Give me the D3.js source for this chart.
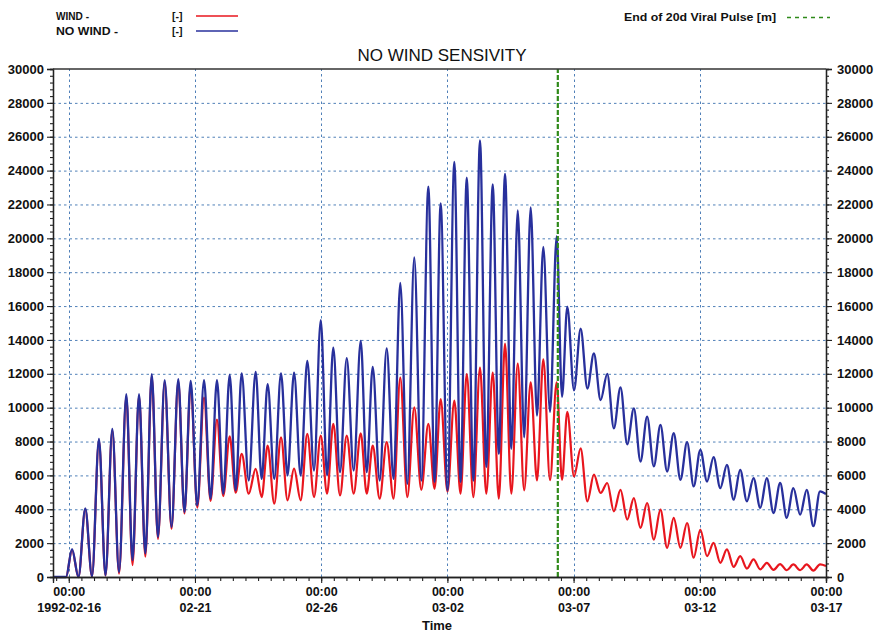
<!DOCTYPE html>
<html>
<head>
<meta charset="utf-8">
<script src="https://cdn.jsdelivr.net/npm/d3@7"></script>
<style>
  body { margin: 0; background: #fff; }
  text { font-family: "Liberation Sans", Arial, sans-serif; fill: #111; }
</style>
</head>
<body>
<svg id="chart" width="874" height="633"></svg>
<script>
// Simulation window: the viral pulse starts at the beginning of the run
const pulseStart = new Date(1992, 1, 15, 9, 0);
const pulseDays = 20;
const runEnd = new Date(1992, 2, 17, 0, 0);

// Tidal extremes, hours after pulse start (shared by both runs)
const hoursFromStart = [
  0, 12.4, 18.1, 24.2, 30.7, 37.1, 43.7, 49.9, 56.4, 62.8,
  69.7, 75.6, 81.8, 87.8, 93.9, 99.8, 106.2, 112.7, 119.1, 125.0,
  130.9, 137.2, 143.6, 149.8, 155.9, 161.9, 168.0, 173.7, 179.4, 186.1,
  192.7, 198.4, 204.1, 210.4, 216.8, 223.0, 229.2, 235.5, 241.8, 248.2,
  254.6, 260.6, 266.5, 272.9, 279.3, 285.9, 292.6, 298.3, 304.0, 310.6,
  317.3, 323.8, 330.2, 336.9, 343.5, 350.2, 356.9, 362.8, 368.6, 375.1,
  381.6, 387.5, 393.4, 399.7, 406.0, 412.0, 418.1, 423.9, 429.8, 435.8,
  441.9, 448.0, 454.2, 460.2, 466.2, 472.6, 478.9, 484.0, 489.0, 495.4,
  501.7, 508.1, 514.3, 520.7, 527.0, 533.3, 539.6, 546.0, 552.3, 558.6,
  564.9, 571.3, 577.6, 583.9, 590.2, 596.6, 602.9, 609.2, 615.5, 621.9,
  628.1, 634.5, 640.8, 647.2, 653.4, 659.8, 666.1, 672.5, 678.7, 685.1,
  691.4, 697.7, 704.0, 710.4, 716.7, 723.0, 729.3, 735.0
];

// WIND run [-]
const windValues = [
  0, 0, 1600, 0, 4000, 30, 8050, 80, 8650, 200,
  10650, 700, 10700, 1200, 11850, 2250, 11500, 2850, 11550, 3750,
  11300, 4100, 10600, 4500, 9300, 4780, 8300, 4980, 7270, 4920,
  6390, 4720, 7760, 4330, 8250, 4530, 6400, 4530, 8450, 4720,
  8350, 4920, 9040, 4820, 8350, 4920, 8490, 4920, 7760, 4630,
  7960, 4630, 11780, 4720, 10020, 5150, 9040, 5210, 10500, 5050,
  10410, 4920, 11980, 4720, 12370, 4920, 12070, 4630, 13780, 4920,
  12600, 5120, 11490, 5700, 12850, 5720, 11500, 5740, 9760, 5940,
  7600, 4470, 6040, 4960, 5550, 3880, 5150, 3390, 4660, 2900,
  4370, 2210, 3980, 1720, 3490, 1720, 3190, 1140, 2800, 1230,
  2020, 840, 1630, 600, 1230, 500, 1040, 450, 840, 420,
  760, 400, 740, 400, 740, 380, 740, 650
];

// NO WIND run [-]
const noWindValues = [
  0, 0, 1650, 0, 4050, 50, 8150, 100, 8740, 300,
  10800, 1000, 10800, 1390, 11980, 2370, 11620, 2960, 11680, 3840,
  11580, 4230, 11620, 4630, 11620, 4920, 11940, 5120, 12020, 5700,
  12110, 5800, 11390, 5800, 12020, 6000, 12070, 6000, 12760, 6290,
  15170, 6000, 13540, 6190, 12920, 6290, 13940, 6190, 12410, 5700,
  13500, 5800, 17370, 5500, 18870, 5700, 23050, 5610, 22070, 5120,
  24520, 5610, 23580, 5700, 25790, 6490, 23190, 7270, 23800, 7570,
  21650, 8250, 21820, 9530, 19500, 9760, 20110, 10640, 15970, 11030,
  14660, 11130, 13200, 10450, 12000, 8780, 11200, 7840, 9960, 6820,
  9470, 6530, 8980, 6230, 8490, 5740, 7960, 5350, 7510, 5640,
  7080, 5250, 6620, 4570, 6330, 4470, 5840, 4080, 5840, 3780,
  5550, 3490, 5250, 3680, 5150, 3000, 5060, 4900
];

const yTickValues = [0, 2000, 4000, 6000, 8000, 10000, 12000, 14000, 16000,
  18000, 20000, 22000, 24000, 26000, 28000, 30000];
const xTickDays = ["1992-02-16", "1992-02-21", "1992-02-26", "1992-03-02",
  "1992-03-07", "1992-03-12", "1992-03-17"];

const seriesColors = { wind: "#e8161e", noWind: "#28309c", pulse: "#2f8a1a" };

const svg = d3.select("#chart");
const margin = { left: 53, right: 48, top: 69, bottom: 56 };
const W = 874, H = 633;

const x = d3.scaleTime()
  .domain([pulseStart, runEnd])
  .range([margin.left, W - margin.right]);
const y = d3.scaleLinear()
  .domain([0, 30000])
  .range([H - margin.bottom, margin.top]);

const parseDay = d3.timeParse("%Y-%m-%d");
const xTicks = xTickDays.map(parseDay);
const hour = 3600 * 1000;
const toDate = h => new Date(pulseStart.getTime() + h * hour);

// Grid
const grid = svg.append("g")
  .attr("stroke", "#5080b8")
  .attr("stroke-width", 1)
  .attr("stroke-dasharray", "2.5,3");
grid.selectAll("line.h")
  .data(yTickValues.filter(v => v > 0 && v < 30000))
  .join("line")
  .attr("x1", x.range()[0]).attr("x2", x.range()[1])
  .attr("y1", d => y(d) + 0.5).attr("y2", d => y(d) + 0.5);
grid.selectAll("line.v")
  .data(xTicks.slice(0, -1))
  .join("line")
  .attr("x1", d => Math.round(x(d)) + 0.5).attr("x2", d => Math.round(x(d)) + 0.5)
  .attr("y1", y.range()[0]).attr("y2", y.range()[1]);

// Series
const line = (vals) => d3.line()
  .x((d, i) => x(toDate(hoursFromStart[i])))
  .y(d => y(d))
  .curve(d3.curveMonotoneX)(vals);

svg.append("path")
  .attr("d", line(windValues))
  .attr("fill", "none")
  .attr("stroke", seriesColors.wind)
  .attr("stroke-width", 2.2)
  .attr("stroke-linejoin", "round");

svg.append("path")
  .attr("d", line(noWindValues))
  .attr("fill", "none")
  .attr("stroke", seriesColors.noWind)
  .attr("stroke-width", 2.3)
  .attr("stroke-linejoin", "round");

// End of the viral pulse
const pulseEnd = d3.timeDay.offset(pulseStart, pulseDays);
svg.append("line")
  .attr("x1", x(pulseEnd)).attr("x2", x(pulseEnd))
  .attr("y1", y(0)).attr("y2", y(30000))
  .attr("stroke", seriesColors.pulse)
  .attr("stroke-width", 2.2)
  .attr("stroke-dasharray", "5,2");

// Axes
const fmtNum = d3.format("d");
const minorY = d3.range(0, 30001, 400);

function styleAxis(g) {
  g.select(".domain").attr("stroke", "#222").attr("stroke-width", 1.3);
  g.selectAll(".tick line").attr("stroke", "#222").attr("stroke-width", 1.1);
  g.selectAll("text")
    .attr("font-family", "'Liberation Sans', Arial, sans-serif")
    .attr("fill", "#111");
}

// left
svg.append("g")
  .attr("transform", `translate(${margin.left},0)`)
  .call(d3.axisLeft(y).tickValues(minorY).tickSize(3).tickFormat(""))
  .call(styleAxis);
svg.append("g")
  .attr("transform", `translate(${margin.left},0)`)
  .call(d3.axisLeft(y).tickValues(yTickValues).tickSize(6).tickPadding(3).tickFormat(fmtNum))
  .call(styleAxis)
  .selectAll("text").attr("font-size", 13).attr("font-weight", "bold");

// right
svg.append("g")
  .attr("transform", `translate(${W - margin.right},0)`)
  .call(d3.axisRight(y).tickValues(minorY).tickSize(3).tickFormat(""))
  .call(styleAxis);
svg.append("g")
  .attr("transform", `translate(${W - margin.right},0)`)
  .call(d3.axisRight(y).tickValues(yTickValues).tickSize(6).tickPadding(5).tickFormat(fmtNum))
  .call(styleAxis)
  .selectAll("text").attr("font-size", 13).attr("font-weight", "bold");

// top frame
svg.append("line")
  .attr("x1", x.range()[0]).attr("x2", x.range()[1])
  .attr("y1", y(30000)).attr("y2", y(30000))
  .attr("stroke", "#333").attr("stroke-width", 1.6);

// bottom
const minorX = d3.timeHour.every(12).range(pulseStart, d3.timeHour.offset(runEnd, 1));
svg.append("g")
  .attr("transform", `translate(0,${y(0)})`)
  .call(d3.axisBottom(x).tickValues(minorX).tickSize(4).tickFormat(""))
  .call(styleAxis);
const bottom = svg.append("g")
  .attr("transform", `translate(0,${y(0)})`)
  .call(d3.axisBottom(x).tickValues(xTicks).tickSize(6).tickFormat(""))
  .call(styleAxis);
bottom.selectAll(".tick").each(function (d, i) {
  const t = d3.select(this);
  t.append("text").attr("y", 19).attr("text-anchor", "middle")
    .attr("font-size", 12.5).attr("font-weight", "bold").attr("fill", "#111")
    .text(d3.timeFormat("%H:%M")(d));
  t.append("text").attr("y", 35).attr("text-anchor", "middle")
    .attr("font-size", 12.5).attr("font-weight", "bold").attr("fill", "#111")
    .text(i === 0 ? d3.timeFormat("%Y-%m-%d")(d) : d3.timeFormat("%m-%d")(d));
});

svg.append("text")
  .attr("x", 437).attr("y", 630)
  .attr("text-anchor", "middle")
  .attr("font-size", 13).attr("font-weight", "bold")
  .text("Time");

// Title
svg.append("text")
  .attr("x", 442).attr("y", 61)
  .attr("text-anchor", "middle")
  .attr("font-size", 17)
  .text("NO WIND SENSIVITY");

// Legend
const legendRows = [
  { name: "WIND -", unit: "[-]", color: seriesColors.wind, yy: 20, w: 33 },
  { name: "NO WIND -", unit: "[-]", color: seriesColors.noWind, yy: 35, w: 62 }
];
const lg = svg.append("g");
legendRows.forEach(r => {
  lg.append("text").attr("x", 56).attr("y", r.yy)
    .attr("font-size", 10.5).attr("font-weight", "bold")
    .attr("textLength", r.w).attr("lengthAdjust", "spacingAndGlyphs")
    .text(r.name);
  lg.append("text").attr("x", 172).attr("y", r.yy)
    .attr("font-size", 10.5).attr("font-weight", "bold").text(r.unit);
  lg.append("line").attr("x1", 196).attr("x2", 238)
    .attr("y1", r.yy - 4).attr("y2", r.yy - 4)
    .attr("stroke", r.color).attr("stroke-width", 1.6);
});
lg.append("text").attr("x", 624).attr("y", 21)
  .attr("font-size", 10.5).attr("font-weight", "bold")
  .attr("textLength", 152).attr("lengthAdjust", "spacingAndGlyphs")
  .text("End of 20d Viral Pulse [m]");
lg.append("line").attr("x1", 787).attr("x2", 830)
  .attr("y1", 17.5).attr("y2", 17.5)
  .attr("stroke", seriesColors.pulse).attr("stroke-width", 1.6)
  .attr("stroke-dasharray", "4,4");
</script>
</body>
</html>
